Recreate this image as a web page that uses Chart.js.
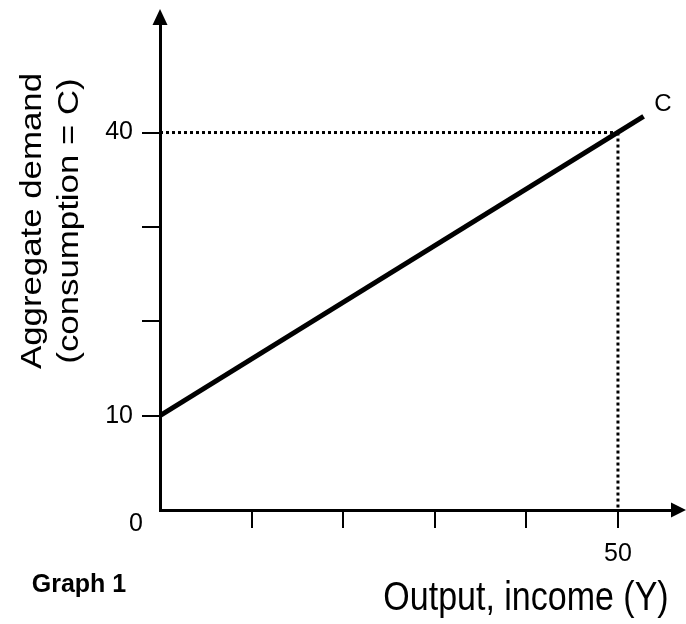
<!DOCTYPE html>
<html>
<head>
<meta charset="utf-8">
<script src="https://cdn.jsdelivr.net/npm/chart.js@4.4.1/dist/chart.umd.min.js"></script>
<style>
  body { margin: 0; background: #fff; }
  canvas { display: block; }
</style>
</head>
<body>
<canvas id="graph" width="686" height="624"></canvas>
<script>
// Data
const consumptionY = [0, 52.8];        // output, income (Y)
const consumptionC = [10, 41.7];       // consumption C = 10 + 0.6Y
const markY = 50;                      // dotted guide at Y = 50
const markC = 40;                      //   and C = 40
const xLabels = [50];                  // labelled x ticks
const yLabels = [10, 40];              // labelled y ticks
const xMax = 55.9;
const yMax = 51.5;

const FONT = "'Liberation Sans', Arial, sans-serif";

// Arrowheads, axis titles and other free text
const extras = {
  id: "extras",
  afterDraw(chart) {
    const ctx = chart.ctx;
    const x = chart.scales.x, y = chart.scales.y;
    const x0 = x.getPixelForValue(0), y0 = y.getPixelForValue(0);
    const top = chart.chartArea.top, right = chart.chartArea.right;
    ctx.save();
    ctx.fillStyle = "#000";

    // arrow on y axis
    ctx.beginPath();
    ctx.moveTo(x0, top - 15);
    ctx.lineTo(x0 - 7.5, top + 1);
    ctx.lineTo(x0 + 7.5, top + 1);
    ctx.closePath();
    ctx.fill();
    // arrow on x axis
    ctx.beginPath();
    ctx.moveTo(right + 14, y0);
    ctx.lineTo(right - 1, y0 - 7.5);
    ctx.lineTo(right - 1, y0 + 7.5);
    ctx.closePath();
    ctx.fill();

    // origin label
    ctx.font = "25px " + FONT;
    ctx.textAlign = "center";
    ctx.textBaseline = "middle";
    ctx.fillText("0", x0 - 24, y0 + 14);

    // curve label
    ctx.font = "24px " + FONT;
    ctx.fillText("C", x.getPixelForValue(54.9), y.getPixelForValue(43.0));

    // y title (two lines, stretched along its length)
    ctx.font = "29px " + FONT;
    const yMid = (top + y0) / 2 - 46;
    [["Aggregate demand", 33], ["(consumption = C)", 70]].forEach(([t, px]) => {
      ctx.save();
      ctx.translate(px, yMid);
      ctx.rotate(-Math.PI / 2);
      ctx.scale(1.2, 1);
      ctx.fillText(t, 0, 0);
      ctx.restore();
    });

    // x title
    ctx.save();
    ctx.font = "34px " + FONT;
    ctx.translate(526, 599);
    ctx.scale(1, 1.2);
    ctx.fillText("Output, income (Y)", 0, 0);
    ctx.restore();

    // caption
    ctx.font = "bold 25px " + FONT;
    ctx.fillText("Graph 1", 79, 585);
    ctx.restore();
  }
};

const tickColor = (hide) => (c) => (c.tick && hide(c.tick.value)) ? "rgba(0,0,0,0)" : "#000";

new Chart(document.getElementById("graph"), {
  type: "line",
  data: {
    datasets: [
      {
        data: consumptionY.map((v, i) => ({ x: v, y: consumptionC[i] })),
        borderColor: "#000",
        borderWidth: 5,
        pointRadius: 0,
        order: 0
      },
      {
        data: [{ x: 0, y: markC }, { x: markY, y: markC }],
        borderColor: "#000",
        borderWidth: 3,
        borderDash: [3, 3],
        pointRadius: 0,
        order: 1
      },
      {
        data: [{ x: markY, y: markC }, { x: markY, y: 0 }],
        borderColor: "#000",
        borderWidth: 3,
        borderDash: [3, 3],
        pointRadius: 0,
        order: 1
      }
    ]
  },
  options: {
    responsive: false,
    animation: false,
    layout: { padding: { top: 23, right: 14, left: 0, bottom: 0 } },
    plugins: { legend: { display: false }, tooltip: { enabled: false } },
    scales: {
      x: {
        type: "linear",
        min: 0,
        max: xMax,
        afterFit: (s) => { s.height = 114; },
        border: { display: true, color: "#000", width: 3 },
        grid: {
          drawOnChartArea: false,
          drawTicks: true,
          tickLength: 18,
          lineWidth: 2,
          color: tickColor(v => v === 0),
          tickColor: tickColor(v => v === 0)
        },
        ticks: {
          stepSize: 10,
          includeBounds: false,
          maxRotation: 0,
          autoSkip: false,
          padding: 11,
          color: "#000",
          font: { family: FONT, size: 25 },
          callback: (v) => xLabels.includes(v) ? String(v) : ""
        }
      },
      y: {
        type: "linear",
        min: 0,
        max: yMax,
        afterFit: (s) => { s.width = 160; },
        border: { display: true, color: "#000", width: 3 },
        grid: {
          drawOnChartArea: false,
          drawTicks: true,
          tickLength: 18,
          lineWidth: 2,
          color: tickColor(v => v === 0 || v >= 50),
          tickColor: tickColor(v => v === 0 || v >= 50)
        },
        ticks: {
          stepSize: 10,
          includeBounds: false,
          autoSkip: false,
          padding: 9,
          color: "#000",
          font: { family: FONT, size: 25 },
          callback: (v) => yLabels.includes(v) ? String(v) : ""
        }
      }
    }
  },
  plugins: [extras]
});
</script>
</body>
</html>
